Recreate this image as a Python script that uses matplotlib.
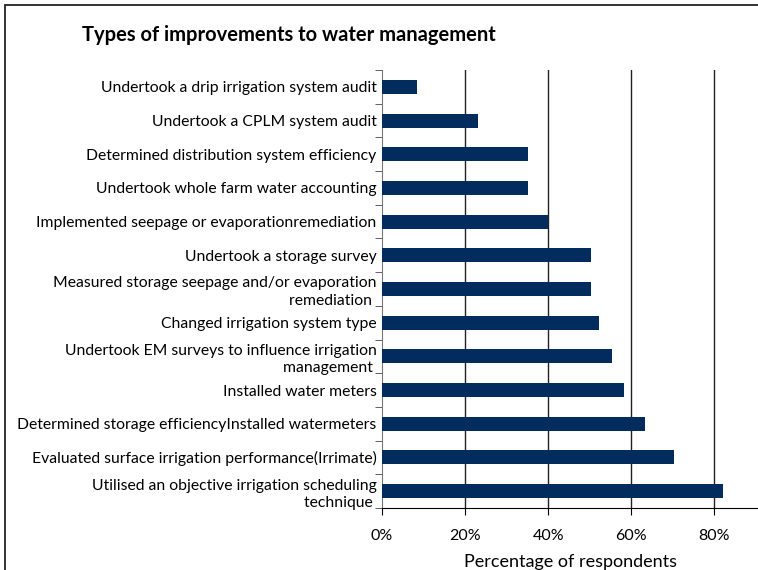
import matplotlib
matplotlib.use("Agg")
import matplotlib.pyplot as plt
from matplotlib.patches import Rectangle
from matplotlib.ticker import FuncFormatter, FixedLocator

# categories, top to bottom as shown
labels = [
    "Undertook a drip irrigation system audit",
    "Undertook a CPLM system audit",
    "Determined distribution system efficiency",
    "Undertook whole farm water accounting",
    "Implemented seepage or evaporationremediation",
    "Undertook a storage survey",
    "Measured storage seepage and/or evaporation\nremediation ",
    "Changed irrigation system type",
    "Undertook EM surveys to influence irrigation\nmanagement ",
    "Installed water meters",
    "Determined storage efficiencyInstalled watermeters",
    "Evaluated surface irrigation performance(Irrimate)",
    "Utilised an objective irrigation scheduling\ntechnique ",
]
values = [8.5, 23.2, 35.2, 35.2, 40.0, 50.2, 50.2, 52.2, 55.3, 58.2, 63.3, 70.3, 82.0]
xticks = [0, 20, 40, 60, 80]

plt.rcParams['font.family'] = ['Lato', 'DejaVu Sans']

fig = plt.figure(figsize=(7.58, 5.70), dpi=100)
ax = fig.add_axes([0.504, 0.109, 0.496, 0.768])

n = len(labels)
ypos = [n - 1 - i for i in range(n)]
ax.barh(ypos, values, height=0.42, color='#032c5e', zorder=3)

ax.set_xlim(0, 90.5)
ax.set_ylim(-0.5, n - 0.5)
ax.set_xticks(xticks)
ax.xaxis.set_major_formatter(FuncFormatter(lambda v, p: "%d%%" % v))
ax.tick_params(axis='x', direction='out', length=5, labelsize=11.5, pad=10, colors='black')
for x in xticks[1:]:
    ax.axvline(x, color='#222222', lw=1.0, zorder=1)

# category labels at bar centres, tick marks at category boundaries
ax.set_yticks(ypos)
ax.set_yticklabels(labels, fontsize=11.3, linespacing=1.3)
ax.tick_params(axis='y', which='major', length=0, pad=4)
ax.yaxis.set_minor_locator(FixedLocator([i - 0.5 for i in range(n + 1)]))
ax.tick_params(axis='y', which='minor', length=5, direction='out', color='#444444')

for s in ['top', 'right']:
    ax.spines[s].set_visible(False)
ax.spines['left'].set_color('#777777')
ax.spines['bottom'].set_color('black')

ax.set_xlabel("Percentage of respondents", fontsize=13, labelpad=8)
fig.text(0.108, 0.938, "Types of improvements to water management",
         fontsize=14.5, fontweight='bold', ha='left', va='center')

fig.patches.append(Rectangle((5 / 758, -0.1), 1.0, 1.1 - 5 / 570, fill=False,
                             lw=1.3, edgecolor='#222222', transform=fig.transFigure))

fig.savefig("out.png", dpi=100)
